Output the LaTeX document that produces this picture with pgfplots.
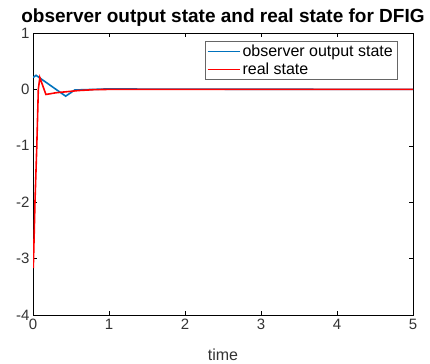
\documentclass[border=0pt]{standalone}
\usepackage{fontspec}
\setmainfont{Liberation Sans}
\usepackage{pgfplots}
\pgfplotsset{compat=1.18}
\definecolor{mblue}{rgb}{0,0.447,0.741}
\begin{document}
\begin{tikzpicture}
% fixed frame around the axis (axis south west sits at the origin)
\useasboundingbox (-33bp,-49bp) rectangle ++(430bp,364bp);
\begin{axis}[
  at={(0,0)}, anchor=south west,
  scale only axis,
  width=380bp, height=282bp,
  xmin=0, xmax=5, ymin=-4, ymax=1,
  xtick={0,1,2,3,4,5}, ytick={-4,-3,-2,-1,0,1},
  tick align=inside,
  major tick length=4bp,
  tick style={black, line width=0.5pt},
  axis line style={black, line width=0.6pt},
  /pgf/number format/assume math mode=true,
  ticklabel style={font=\fontsize{15bp}{17bp}\selectfont, text=black!80},
  xticklabel style={yshift=-1bp},
  xlabel={time},
  xlabel style={font=\fontsize{16bp}{18bp}\selectfont, text=black!80, yshift=-12bp},
  title={observer output state and real state for DFIG},
  title style={font=\bfseries\fontsize{19bp}{21bp}\selectfont, yshift=-3bp},
  legend style={at={(0.958,0.9705)}, anchor=north east,
    font=\fontsize{16bp}{18bp}\selectfont, draw=black!60,
    inner xsep=2bp, inner ysep=1.5bp, row sep=0.7bp},
  legend cell align=left,
  legend image code/.code={\draw[#1] plot coordinates {(0bp,0bp) (16bp,0bp) (32bp,0bp)};},
]
\addplot[mblue, line width=1.6pt] coordinates {
  (0,0.21) (0.04,0.25) (0.43,-0.12) (0.55,-0.01) (0.8,0.0) (1.0,0.01) (1.5,0.005) (5,0)
};
\addlegendentry{observer output state}
\addplot[red, line width=1.6pt] coordinates {
  (0,-2.65) (0.004,-3.17) (0.015,-2.6) (0.026,-2.0) (0.05,-1.0) (0.07,0.0) (0.09,0.21)
  (0.17,-0.09) (0.3,-0.06) (0.45,-0.04) (0.6,-0.02) (0.8,-0.005) (1.0,0) (5,0)
};
\addlegendentry{real state}
\end{axis}
\end{tikzpicture}
\end{document}
